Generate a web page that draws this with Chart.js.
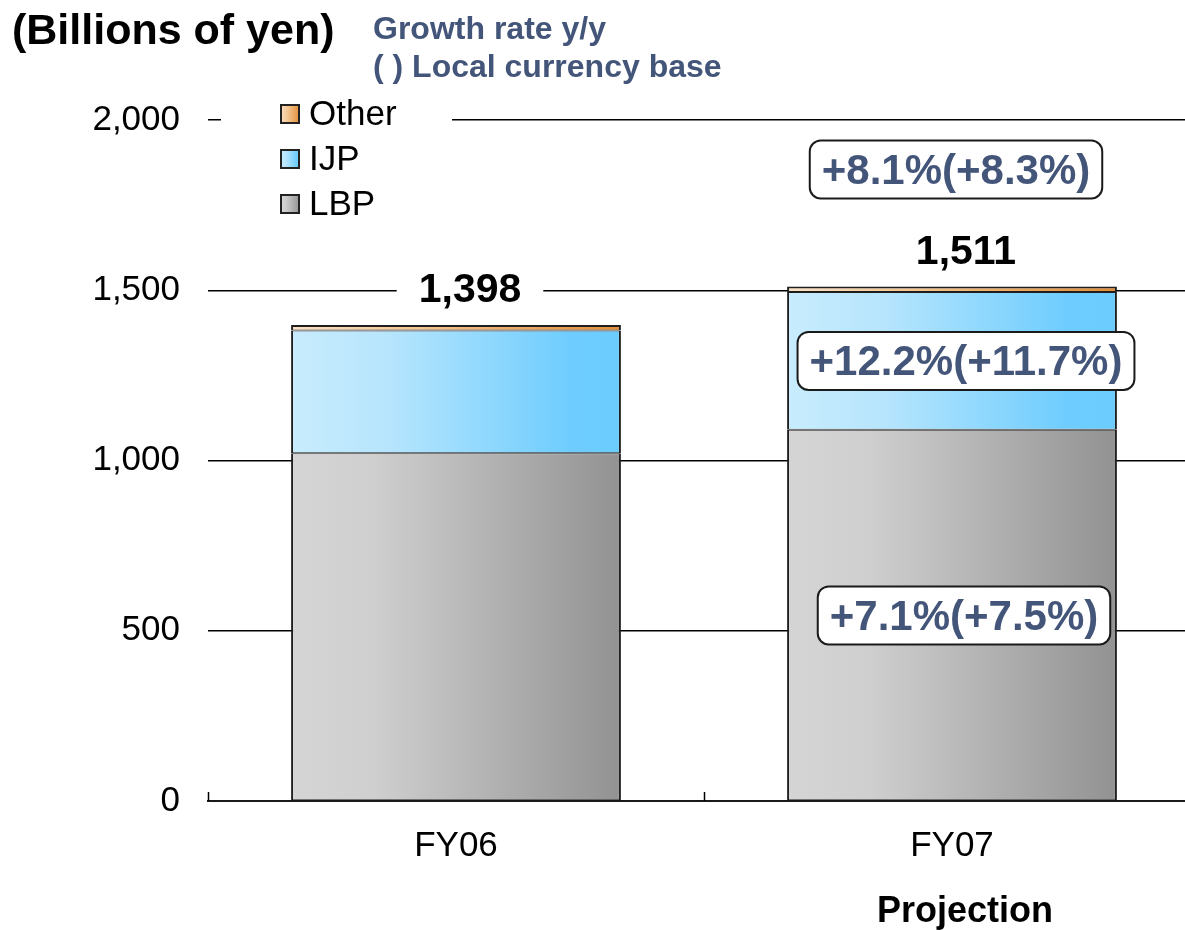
<!DOCTYPE html>
<html>
<head>
<meta charset="utf-8">
<title>Sales by segment</title>
<script src="https://cdn.jsdelivr.net/npm/chart.js@4.4.1/dist/chart.umd.min.js"></script>
<style>
  html, body { margin: 0; padding: 0; background: #fff; overflow: hidden; }
  #wrap { width: 1185px; height: 930px; overflow: hidden; }
</style>
</head>
<body>
<div id="wrap"><canvas id="chart" width="1200" height="930"></canvas></div>
<script>
// data (billions of yen)
const categories = ['FY06', 'FY07'];
const lbp = [1021, 1090];
const ijp = [361, 405];
const other = [16, 16];
const yTicks = [0, 500, 1000, 1500, 2000];
const growthLabels = ['+7.1%(+7.5%)', '+12.2%(+11.7%)', '+8.1%(+8.3%)']; // LBP, IJP, total (FY07)

const FONT = "'Liberation Sans', Arial, sans-serif";
const SLATE = '#44557a';
const BAR_PCT = 0.665;

Chart.defaults.font.family = FONT;
Chart.defaults.color = '#000';

const lbpStops = [[0, '#d5d5d5'], [0.25, '#cfcfcf'], [1, '#929292']];
const ijpStops = [[0, '#c8ecfd'], [0.3, '#b6e5fd'], [0.85, '#6ecdfe'], [1, '#6cccfe']];
const otherStops = [[0, '#fbe2c4'], [0.4, '#f3c48f'], [1, '#e48d35']];

function barGradient(stops) {
  return (ctx) => {
    const chart = ctx.chart;
    const xs = chart.scales.x;
    if (!chart.chartArea || !xs) return stops[0][1];
    const half = (xs.width / categories.length) * BAR_PCT / 2;
    const cx = xs.getPixelForValue(ctx.dataIndex);
    const g = chart.ctx.createLinearGradient(cx - half, 0, cx + half, 0);
    stops.forEach(s => g.addColorStop(s[0], s[1]));
    return g;
  };
}

function roundRect(c, x, y, w, h, r) {
  c.beginPath();
  c.moveTo(x + r, y);
  c.arcTo(x + w, y, x + w, y + h, r);
  c.arcTo(x + w, y + h, x, y + h, r);
  c.arcTo(x, y + h, x, y, r);
  c.arcTo(x, y, x + w, y, r);
  c.closePath();
}

function growthBox(c, text, cx, cy) {
  c.font = 'bold 42px ' + FONT;
  const w = c.measureText(text).width + 24;
  const h = 58;
  roundRect(c, cx - w / 2, cy - h / 2, w, h, 11);
  c.fillStyle = '#fff';
  c.fill();
  c.lineWidth = 2;
  c.strokeStyle = '#1a1a1a';
  c.stroke();
  c.fillStyle = SLATE;
  c.textAlign = 'center';
  c.textBaseline = 'middle';
  c.fillText(text, cx, cy + 3);
}

const decor = {
  id: 'decor',
  afterDatasetsDraw(chart) {
    const c = chart.ctx, xs = chart.scales.x, ys = chart.scales.y, area = chart.chartArea;
    const step = xs.width / categories.length;
    c.save();

    // short inner ticks at the category boundaries
    c.strokeStyle = '#000';
    c.lineWidth = 1.5;
    for (let i = 0; i <= categories.length; i++) {
      const bx = Math.round(area.left + i * step) + 0.5;
      c.beginPath();
      c.moveTo(bx, area.bottom);
      c.lineTo(bx, area.bottom - 9);
      c.stroke();
    }

    // legend (white backing breaks the 2,000 gridline)
    c.fillStyle = '#fff';
    c.fillRect(221, 92, 231, 135);
    const legend = [['Other', otherStops], ['IJP', ijpStops], ['LBP', lbpStops]];
    legend.forEach((item, i) => {
      const top = 104 + i * 45;
      const g = c.createLinearGradient(280, 0, 300, 0);
      item[1].forEach(s => g.addColorStop(s[0], s[1]));
      c.fillStyle = g;
      c.fillRect(280, top, 20, 20);
      c.lineWidth = 2;
      c.strokeStyle = '#222';
      c.strokeRect(281, top + 1, 18, 18);
      c.fillStyle = '#000';
      c.font = '35px ' + FONT;
      c.textAlign = 'left';
      c.textBaseline = 'middle';
      c.fillText(item[0], 309, top + 11);
    });

    // totals above the bars
    c.font = 'bold 41px ' + FONT;
    c.textAlign = 'center';
    c.textBaseline = 'alphabetic';
    categories.forEach((cat, i) => {
      const total = lbp[i] + ijp[i] + other[i];
      const label = total.toLocaleString('en-US');
      const top = ys.getPixelForValue(total);
      const cx = xs.getPixelForValue(i) + 14;
      const w = c.measureText(label).width;
      c.fillStyle = '#fff';
      c.fillRect(cx - w / 2 - 22, top - 56, w + 44, 30);
      c.fillStyle = '#000';
      c.fillText(label, cx, top - 23);
    });

    // growth rates for FY07
    const last = categories.length - 1;
    const fx = xs.getPixelForValue(last);
    growthBox(c, growthLabels[0], fx + 12, ys.getPixelForValue(lbp[last] / 2));
    growthBox(c, growthLabels[1], fx + 14, ys.getPixelForValue(lbp[last] + ijp[last] / 2));
    const tot = lbp[last] + ijp[last] + other[last];
    growthBox(c, growthLabels[2], fx + 4, ys.getPixelForValue(tot) - 117);

    // header texts
    c.textAlign = 'left';
    c.textBaseline = 'alphabetic';
    c.fillStyle = '#000';
    c.font = 'bold 43px ' + FONT;
    c.fillText('(Billions of yen)', 12, 44);
    c.fillStyle = SLATE;
    c.font = 'bold 32px ' + FONT;
    c.fillText('Growth rate y/y', 373, 39);
    c.fillText('( ) Local currency base', 373, 77);

    // projection note under FY07
    c.fillStyle = '#000';
    c.font = 'bold 36px ' + FONT;
    c.textAlign = 'center';
    c.fillText('Projection', fx + 13, 922);

    c.restore();
  }
};

const border = { display: true, color: '#1a1a1a', width: 2 };
const segBorder = { left: 2, right: 2, top: 1, bottom: 1 };

new Chart(document.getElementById('chart'), {
  type: 'bar',
  data: {
    labels: categories,
    datasets: [
      { label: 'LBP', data: lbp, backgroundColor: barGradient(lbpStops), borderWidth: segBorder },
      { label: 'IJP', data: ijp, backgroundColor: barGradient(ijpStops), borderWidth: segBorder },
      { label: 'Other', data: other, backgroundColor: barGradient(otherStops),
        borderWidth: { left: 2, right: 2, top: 2, bottom: 1 } }
    ].map(d => Object.assign(d, {
      borderColor: '#1e1e1e',
      borderSkipped: false,
      categoryPercentage: 1,
      barPercentage: BAR_PCT
    }))
  },
  options: {
    responsive: false,
    animation: false,
    layout: { padding: { top: 120, left: 0, right: 0, bottom: 0 } },
    plugins: { legend: { display: false }, tooltip: { enabled: false } },
    scales: {
      x: {
        stacked: true,
        grid: { display: false },
        border: border,
        ticks: { font: { size: 35 }, color: '#000', padding: 16 },
        afterFit: s => { s.height = 129; }
      },
      y: {
        stacked: true,
        min: 0,
        max: 2000,
        afterBuildTicks: s => { s.ticks = yTicks.map(v => ({ value: v })); },
        ticks: {
          font: { size: 35 },
          color: '#000',
          padding: 28,
          callback: v => v.toLocaleString('en-US')
        },
        grid: { color: '#000', lineWidth: 1.5, drawTicks: false },
        border: { display: false },
        afterFit: s => { s.width = 208; }
      }
    }
  },
  plugins: [decor]
});
</script>
</body>
</html>
